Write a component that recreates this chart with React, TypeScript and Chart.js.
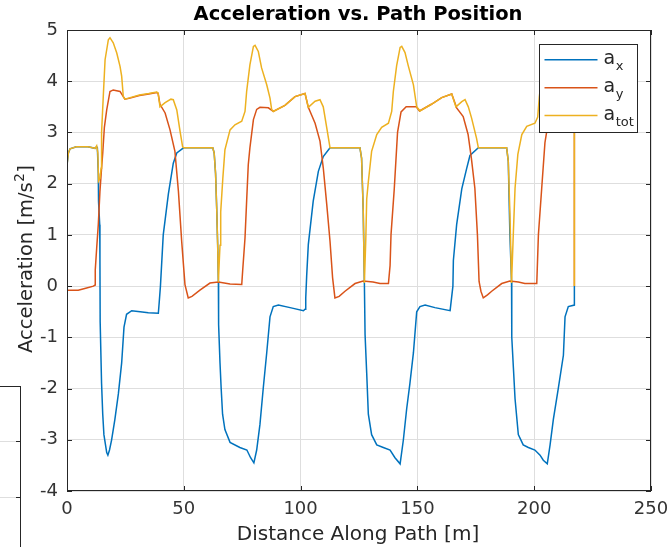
import React, { useEffect, useRef } from "react";
import { Chart, registerables } from "chart.js";

Chart.register(...registerables);

const FONT = '"DejaVu Sans", "Liberation Sans", sans-serif';
const AXIS_COLOR = "#262626";
const GRID_COLOR = "#dedede";

const titleText = "Acceleration vs. Path Position";
const xTitleText = "Distance Along Path [m]";
const yTitleMain = "Acceleration [m/s";
const yTitleSup = "2";
const yTitleEnd = "]";

const xTicks = [0, 50, 100, 150, 200, 250];
const yTicks = [-4, -3, -2, -1, 0, 1, 2, 3, 4, 5];

const legendBase = ["a", "a", "a"];
const legendSub = ["x", "y", "tot"];
const seriesColors = ["#0072BD", "#D95319", "#EDB120"];

// a_x
const axDist = [
  0, 0.1, 0.6, 1.3, 4, 9, 12.0, 12.7, 13.0, 13.4, 13.5, 14.0, 14.1, 14.2, 14.8, 15.3, 15.8, 17.0, 17.5, 18.2,
  19.1, 20.5, 22.0, 23.4, 24.4, 25.5, 27.7, 31.3, 34.8, 39.1, 39.5, 40.0, 41.2, 43.4, 45.5, 47.0, 49.9, 62.4,
  63.0, 63.6, 64.1, 64.5, 64.8, 64.9, 65.5, 66.0, 66.6, 67.6, 69.8, 74.0, 77.0, 78.6, 80.0, 81.2, 82.6, 84.0,
  85.5, 86.9, 88.3, 90.5, 95.5, 101.2, 101.9, 102.2, 102.6, 103.3, 105.4, 107.6, 109.7, 112.6, 125.4, 126.1,
  126.8, 127.3, 127.6, 128.3, 129.0, 130.4, 132.6, 135.4, 138.3, 140.4, 142.6, 144.0, 145.4, 146.8, 148.3,
  149.7, 151.1, 153.3, 157.5, 164.0, 164.7, 165.2, 165.4, 166.8, 169.0, 171.1, 172.5, 176.1, 188.2, 188.9,
  189.6, 190.3, 190.4, 191.1, 191.8, 193.2, 195.3, 197.5, 200.3, 202.5, 203.9, 205.6, 206.8, 208.2, 210.3,
  212.5, 213.2, 214.6, 217.2, 217.2,
];
const axVal = [
  0.0, 2.4, 2.6, 2.68, 2.72, 2.72, 2.69, 2.72, 2.7, 2.2, 1.65, 1.2, 0.5, -0.7, -1.9, -2.5, -2.9, -3.25, -3.3, -3.2,
  -3.0, -2.6, -2.1, -1.5, -0.8, -0.55, -0.48, -0.5, -0.52, -0.53, -0.3, 0.0, 1.0, 1.8, 2.4, 2.6, 2.7, 2.7,
  2.6, 2.2, 1.5, 0.8, 0.1, -0.75, -1.5, -2.0, -2.5, -2.8, -3.05, -3.15, -3.2, -3.35, -3.45, -3.2, -2.7, -2.0,
  -1.3, -0.6, -0.4, -0.37, -0.42, -0.48, -0.45, -0.23, 0.2, 0.81, 1.66, 2.24, 2.53, 2.7, 2.7, 2.5,
  1.5, 0.08, -0.95, -1.7, -2.5, -2.9, -3.1, -3.15, -3.2, -3.35, -3.47, -3.0, -2.4, -1.9, -1.3,
  -0.5, -0.4, -0.37, -0.42, -0.48, -0.2, 0.0, 0.5, 1.2, 1.9, 2.3, 2.55, 2.7, 2.7, 2.44,
  1.0, 0.1, -1.0, -1.6, -2.2, -2.9, -3.1, -3.15, -3.2, -3.3, -3.4, -3.47, -3.1, -2.6, -2.0,
  -1.35, -0.6, -0.4, -0.37, 0.0,
];

// a_y
const ayDist = [
  0, 4.8, 8.0, 11.3, 12.0, 12.1, 12.7, 13.4, 14.1, 14.8, 15.3, 16.0, 17.0, 18.4, 19.8, 22.7, 24.1, 24.8, 27.0,
  31.0, 35.0, 38.4, 39.0, 39.8, 42.0, 44.1, 46.2, 47.7, 49.1, 50.5, 51.9, 53.5, 56.9, 61.2, 64.8, 69.8, 74.8,
  75.2, 76.2, 76.9, 77.6, 78.3, 79.8, 81.2, 82.6, 86.2, 88.3, 93.3, 97.6, 101.9, 103.3, 106.2, 108.3, 109.7,
  111.2, 112.6, 113.7, 114.7, 116.5, 119.0, 123.3, 126.8, 131.0, 134.0, 137.6, 138.3, 138.7, 140.1, 141.5,
  143.0, 145.2, 149.5, 150.9, 156.0, 160.4, 164.7, 166.8, 169.6, 171.7, 173.1, 174.6, 175.7, 176.4, 177.2,
  178.2, 180.0, 181.8, 186.1, 189.6, 193.2, 196.0, 201.1, 201.8, 203.2, 204.6, 205.3, 206.5, 208.5, 212.5,
  213.9, 217.2, 217.2,
];
const ayVal = [
  -0.08, -0.08, -0.04, 0.0, 0.02, 0.32, 0.74, 1.2, 1.85, 2.3, 2.6, 3.1, 3.44, 3.8, 3.83, 3.8, 3.7, 3.65, 3.67,
  3.72, 3.75, 3.78, 3.76, 3.55, 3.38, 3.05, 2.63, 1.85, 0.87, 0.03, -0.23, -0.2, -0.08, 0.06, 0.08, 0.04, 0.03,
  0.3, 0.94, 1.66, 2.37, 2.7, 3.25, 3.45, 3.49, 3.48, 3.41, 3.53, 3.7, 3.76, 3.49, 3.18, 2.83, 2.31,
  1.59, 0.87, 0.16, -0.23, -0.2, -0.1, 0.05, 0.1, 0.08, 0.05, 0.05, 0.4, 1.0, 1.9, 3.0,
  3.4, 3.5, 3.5, 3.42, 3.55, 3.68, 3.75, 3.48, 3.31, 2.96, 2.5, 1.91, 1.0, 0.09, -0.1,
  -0.23, -0.17, -0.1, 0.05, 0.1, 0.08, 0.05, 0.05, 1.0, 1.9, 2.8, 3.0, 3.4, 3.5, 3.5,
  3.42, 3.5, 0.0,
];

// a_tot
const atDist = [
  0, 0.1, 0.6, 1.3, 4.0, 9.0, 12.0, 12.7, 13.2, 13.5, 14.1, 14.6, 14.8, 15.6, 16.3, 17.7, 18.4, 19.8, 21.3,
  22.7, 23.4, 24.1, 24.8, 27.0, 31.0, 35.0, 38.4, 39.0, 39.8, 42.0, 44.5, 45.5, 47.0, 48.4, 49.5, 50.0, 62.4,
  63.0, 63.6, 64.1, 64.5, 64.8, 65.2, 65.5, 65.8, 66.7, 67.6, 69.8, 71.9, 74.8, 76.2, 76.9, 78.3, 79.8, 80.5,
  81.9, 83.3, 85.5, 86.9, 87.6, 88.3, 93.3, 97.6, 101.9, 103.3, 106.2, 108.3, 109.7, 111.2, 112.6, 125.4,
  126.1, 126.8, 127.3, 127.9, 128.3, 129.0, 130.4, 132.6, 134.7, 137.6, 139.0, 139.7, 141.1, 142.6, 143.3,
  144.7, 146.1, 148.3, 149.7, 151.1, 156.0, 160.4, 164.7, 166.5, 169.0, 170.4, 171.8, 173.2, 175.3, 176.1,
  188.2, 188.9, 189.6, 190.3, 191.1, 191.8, 193.0, 194.7, 196.8, 200.3, 201.5, 202.2, 203.6, 205.6, 207.0,
  208.5, 210.8, 212.2, 212.7, 214.0, 217.2, 217.2,
];
const atVal = [
  0.1, 2.4, 2.6, 2.68, 2.72, 2.72, 2.69, 2.74, 2.6, 2.05, 2.1, 2.3, 3.0, 3.77, 4.42, 4.81, 4.85, 4.75, 4.55,
  4.29, 4.1, 3.7, 3.65, 3.68, 3.73, 3.76, 3.79, 3.77, 3.5, 3.58, 3.65, 3.64, 3.44, 3.02, 2.72, 2.7, 2.7,
  2.6, 2.2, 1.5, 0.8, 0.08, 0.5, 0.8, 1.45, 2.1, 2.66, 3.05, 3.15, 3.22, 3.41, 3.8, 4.32, 4.68, 4.7,
  4.58, 4.26, 3.93, 3.67, 3.45, 3.41, 3.53, 3.7, 3.76, 3.49, 3.61, 3.64, 3.5, 3.09, 2.7, 2.7,
  2.5, 1.5, 0.06, 0.9, 1.7, 2.04, 2.63, 2.96, 3.1, 3.18, 3.41, 3.8, 4.3, 4.66, 4.68,
  4.56, 4.3, 3.93, 3.5, 3.42, 3.55, 3.68, 3.75, 3.5, 3.6, 3.64, 3.5, 3.28, 2.89, 2.7,
  2.7, 2.44, 1.43, 0.06, 1.07, 1.91, 2.57, 2.96, 3.12, 3.18, 3.3, 3.7, 4.2, 4.6, 4.5,
  4.2, 3.9, 3.6, 3.45, 3.42, 3.5, 0.0,
];

const toPoints = (xs: number[], ys: number[]) => xs.map((x, i) => ({ x, y: ys[i] }));

const decorPlugin = {
  id: "matlabDecor",
  afterDatasetsDraw(chart: any) {
    const { ctx, chartArea: a, scales } = chart;
    ctx.save();
    // inward tick marks on all four sides
    const tl = 5;
    ctx.strokeStyle = AXIS_COLOR;
    ctx.lineWidth = 1;
    ctx.beginPath();
    xTicks.forEach((v) => {
      const px = Math.round(scales.x.getPixelForValue(v)) + 0.5;
      ctx.moveTo(px, a.bottom);
      ctx.lineTo(px, a.bottom - tl);
      ctx.moveTo(px, a.top);
      ctx.lineTo(px, a.top + tl);
    });
    yTicks.forEach((v) => {
      const py = Math.round(scales.y.getPixelForValue(v)) + 0.5;
      ctx.moveTo(a.left, py);
      ctx.lineTo(a.left + tl, py);
      ctx.moveTo(a.right, py);
      ctx.lineTo(a.right - tl, py);
    });
    ctx.stroke();
    // axes box
    ctx.strokeRect(
      Math.round(a.left) + 0.5,
      Math.round(a.top) + 0.5,
      Math.round(a.right - a.left) - 1,
      Math.round(a.bottom - a.top) - 1
    );

    // legend
    const lw = 98;
    const lh = 88;
    const lx = Math.round(a.right - 14 - lw) + 0.5;
    const ly = Math.round(a.top + 14) + 0.5;
    ctx.fillStyle = "#ffffff";
    ctx.fillRect(lx, ly, lw, lh);
    ctx.strokeStyle = AXIS_COLOR;
    ctx.lineWidth = 1;
    ctx.strokeRect(lx, ly, lw, lh);
    const rowY = [15.3, 43.3, 71];
    legendBase.forEach((base, i) => {
      const y = ly + rowY[i];
      ctx.strokeStyle = seriesColors[i];
      ctx.lineWidth = 1.5;
      ctx.beginPath();
      ctx.moveTo(lx + 5, y);
      ctx.lineTo(lx + 58, y);
      ctx.stroke();
      ctx.fillStyle = AXIS_COLOR;
      ctx.textAlign = "left";
      ctx.textBaseline = "alphabetic";
      ctx.font = `19px ${FONT}`;
      ctx.fillText(base, lx + 64, y + 4);
      const bw = ctx.measureText(base).width;
      ctx.font = `13px ${FONT}`;
      ctx.fillText(legendSub[i], lx + 64 + bw + 0.5, y + 10);
    });
    ctx.restore();
  },
  afterDraw(chart: any) {
    const { ctx, chartArea: a } = chart;
    const cx = (a.left + a.right) / 2;
    const cy = (a.top + a.bottom) / 2;
    ctx.save();
    ctx.textBaseline = "alphabetic";
    // title
    ctx.fillStyle = "#000000";
    ctx.textAlign = "center";
    ctx.font = `bold 19.5px ${FONT}`;
    ctx.fillText(titleText, cx - 1, a.top - 10);
    // x label
    ctx.fillStyle = AXIS_COLOR;
    ctx.font = `20px ${FONT}`;
    ctx.fillText(xTitleText, cx - 1, a.bottom + 49);
    // y label (rotated, with superscript)
    ctx.translate(32, cy - 1);
    ctx.rotate(-Math.PI / 2);
    ctx.textAlign = "left";
    ctx.font = `19.5px ${FONT}`;
    const w1 = ctx.measureText(yTitleMain).width;
    const w3 = ctx.measureText(yTitleEnd).width;
    ctx.font = `13.5px ${FONT}`;
    const w2 = ctx.measureText(yTitleSup).width;
    const start = -(w1 + w2 + w3) / 2;
    ctx.font = `19.5px ${FONT}`;
    ctx.fillText(yTitleMain, start, 0);
    ctx.font = `13.5px ${FONT}`;
    ctx.fillText(yTitleSup, start + w1 + 0.5, -8);
    ctx.font = `19.5px ${FONT}`;
    ctx.fillText(yTitleEnd, start + w1 + w2 + 1, 0);
    ctx.restore();
  },
};

export default function App() {
  const canvasRef = useRef<HTMLCanvasElement | null>(null);

  useEffect(() => {
    if (!canvasRef.current) return;
    const chart = new Chart(canvasRef.current, {
      type: "line",
      data: {
        datasets: [
          { label: "a_x", data: toPoints(axDist, axVal), borderColor: seriesColors[0], order: 3 },
          { label: "a_y", data: toPoints(ayDist, ayVal), borderColor: seriesColors[1], order: 2 },
          { label: "a_tot", data: toPoints(atDist, atVal), borderColor: seriesColors[2], order: 1 },
        ].map((d) => ({
          ...d,
          borderWidth: 1.5,
          pointRadius: 0,
          pointHoverRadius: 0,
          tension: 0,
          fill: false,
        })),
      },
      options: {
        animation: false,
        responsive: false,
        devicePixelRatio: 1,
        layout: { padding: { left: 0, right: 18, top: 30, bottom: 0 } },
        plugins: {
          legend: { display: false },
          title: { display: false },
          tooltip: { enabled: false },
        },
        scales: {
          x: {
            type: "linear",
            min: 0,
            max: 250,
            afterFit: (s: any) => {
              s.height = 56;
              s.paddingLeft = 0;
              s.paddingRight = 0;
            },
            afterBuildTicks: (s: any) => {
              s.ticks = xTicks.map((v) => ({ value: v }));
            },
            ticks: {
              stepSize: 50,
              padding: 8,
              color: "#333333",
              font: { family: FONT, size: 18 },
              maxRotation: 0,
            },
            grid: { color: GRID_COLOR, lineWidth: 1, drawTicks: false },
            border: { display: false },
          },
          y: {
            type: "linear",
            min: -4,
            max: 5,
            afterFit: (s: any) => {
              s.width = 67;
              s.paddingTop = 0;
              s.paddingBottom = 0;
            },
            afterBuildTicks: (s: any) => {
              s.ticks = yTicks.map((v) => ({ value: v }));
            },
            ticks: {
              stepSize: 1,
              padding: 9,
              color: "#333333",
              font: { family: FONT, size: 18 },
            },
            grid: { color: GRID_COLOR, lineWidth: 1, drawTicks: false },
            border: { display: false },
          },
        },
      },
      plugins: [decorPlugin],
    });
    return () => chart.destroy();
  }, []);

  const line = (style: React.CSSProperties) => (
    <div style={{ position: "absolute", ...style }} />
  );

  return (
    <div style={{ position: "fixed", left: 0, top: 0, width: 669, height: 547, background: "#ffffff", overflow: "hidden" }}>
      <canvas ref={canvasRef} width={669} height={547} style={{ width: 669, height: 547, display: "block" }} />
      {line({ left: 0, top: 441, width: 20, height: 1, background: GRID_COLOR })}
      {line({ left: 0, top: 497, width: 20, height: 1, background: GRID_COLOR })}
      {line({ left: 16, top: 441, width: 4, height: 1, background: AXIS_COLOR })}
      {line({ left: 16, top: 497, width: 4, height: 1, background: AXIS_COLOR })}
      {line({ left: 0, top: 386, width: 21, height: 1, background: AXIS_COLOR })}
      {line({ left: 20, top: 386, width: 1, height: 161, background: AXIS_COLOR })}
    </div>
  );
}
